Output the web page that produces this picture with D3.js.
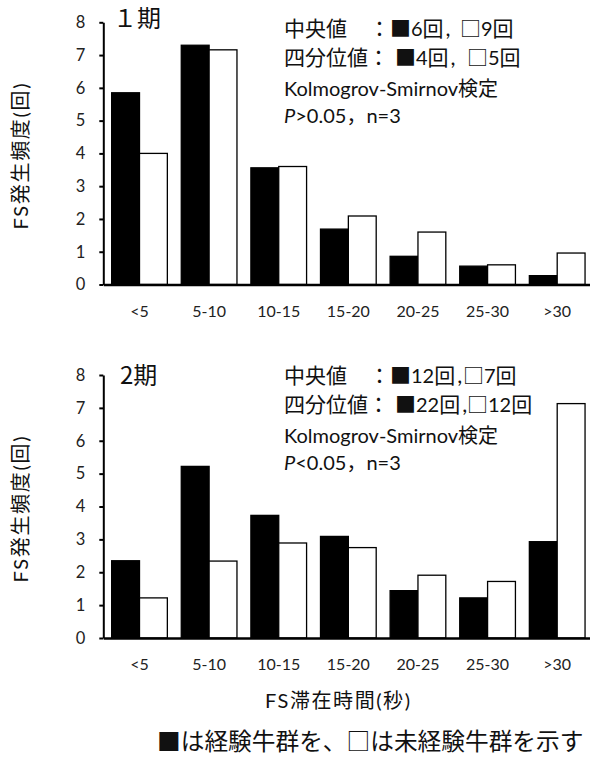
<!DOCTYPE html>
<html>
<head>
<meta charset="utf-8">
<script src="https://cdn.jsdelivr.net/npm/d3@7"></script>
<style>
  body { margin: 0; background: #fff; }
</style>
</head>
<body>
<div id="chart"></div>
<script>
// Data (FS stay time vs. FS frequency)
const categories = ["<5", "5-10", "10-15", "15-20", "20-25", "25-30", ">30"];
const groups = ["experienced", "naive"];
const yTicks = [0, 1, 2, 3, 4, 5, 6, 7, 8];

const period1Experienced = [5.85, 7.30, 3.56, 1.69, 0.86, 0.56, 0.27];
const period1Naive = [4.00, 7.16, 3.60, 2.09, 1.60, 0.60, 0.96];
const period2Experienced = [2.35, 5.22, 3.73, 3.09, 1.44, 1.22, 2.93];
const period2Naive = [1.22, 2.34, 2.89, 2.75, 1.91, 1.72, 7.13];

const periodLabels = ["１期", "2期"];
const medianValues = [[6, 9], [12, 7]];
const quartileValues = [[4, 5], [22, 12]];
const pTexts = [">0.05", "<0.05"];
const testLabel = "Kolmogrov-Smirnov";

const width = 590, height = 758;
const latin = "Lato, 'Noto Sans CJK JP', sans-serif";
const cjk = "'Noto Sans CJK JP', sans-serif";

const svg = d3.select("#chart")
  .append("svg")
    .attr("width", width)
    .attr("height", height)
    .style("font-family", latin);

// shared x scale, both panels use the same columns
const x = d3.scaleBand()
  .domain(categories)
  .range([103.3, 593.4])
  .paddingInner(0.2)
  .paddingOuter(0.12);
const xSub = d3.scaleBand()
  .domain(groups)
  .range([0, x.bandwidth()]);

function statLine(g, y, label, colonX, values, symX) {
  const t = g.append("text")
    .attr("y", y)
    .style("font-family", cjk)
    .style("font-size", "21px")
    .attr("fill", "#111");
  t.append("tspan").attr("x", 284).text(label);
  const colon = t.append("tspan").text("：");
  if (colonX != null) colon.attr("x", colonX);
  values.forEach((v, i) => {
    t.append("tspan").attr("x", symX[i]).text(i === 0 ? "■" : "□");
    t.append("tspan").style("font-family", latin).style("font-size", "20px").text(v);
    t.append("tspan").text("回");
    if (i === 0) {
      t.append("tspan").attr("dx", 2).style("font-family", latin).style("font-size", "22px").text(",");
    }
  });
}

function drawPanel(p) {
  const y = d3.scaleLinear().domain([0, 8]).range(p.yRange);
  const g = svg.append("g");
  const rows = categories.map((c, i) => ({ cat: c, experienced: p.exp[i], naive: p.naive[i] }));

  // bars
  g.selectAll("g.cat")
    .data(rows)
    .enter()
    .append("g")
      .attr("transform", d => `translate(${x(d.cat)},0)`)
    .selectAll("rect")
    .data(d => groups.map(k => ({ key: k, value: d[k] })))
    .enter()
    .append("rect")
      .attr("x", d => xSub(d.key))
      .attr("y", d => y(d.value))
      .attr("width", xSub.bandwidth())
      .attr("height", d => y(0) - y(d.value))
      .attr("fill", d => d.key === "experienced" ? "#000" : "#fff")
      .attr("stroke", "#000")
      .attr("stroke-width", 1.3);

  // X axis
  const xAxis = g.append("g")
    .attr("transform", `translate(0,${y(0)})`)
    .call(d3.axisBottom(x).tickSize(0).tickPadding(21));
  xAxis.select(".domain").attr("stroke-width", 2.4);
  xAxis.selectAll("text")
    .style("font-family", latin)
    .style("font-size", "16px")
    .attr("fill", "#222");

  // Y axis
  const yAxis = g.append("g")
    .attr("transform", `translate(${x.range()[0]},0)`)
    .call(d3.axisLeft(y).tickValues(yTicks).tickSize(4).tickSizeOuter(0).tickPadding(14));
  yAxis.select(".domain").attr("stroke-width", 2);
  yAxis.selectAll(".tick line").attr("stroke-width", 2);
  yAxis.selectAll("text")
    .style("font-family", latin)
    .style("font-size", "16.5px")
    .attr("fill", "#222");

  // Y axis label
  g.append("text")
    .attr("transform", "rotate(-90)")
    .attr("x", -(p.yRange[0] + p.yRange[1]) / 2 - 3)
    .attr("y", 28)
    .attr("text-anchor", "middle")
    .attr("textLength", 146)
    .attr("lengthAdjust", "spacing")
    .style("font-size", "20px")
    .attr("fill", "#111")
    .text("FS発生頻度(回)");

  // period title
  g.append("text")
    .attr("x", p.titleX)
    .attr("y", p.titleY)
    .style("font-family", cjk)
    .style("font-size", "24px")
    .attr("fill", "#111")
    .text(p.title);

  // stats block
  const top = p.statY;
  statLine(g, top, "中央値", 369, p.median, p.medianSymX);
  statLine(g, top + 29, "四分位値", null, p.quartile, p.quartileSymX);

  const ks = g.append("text")
    .attr("x", 284)
    .attr("y", top + 60)
    .style("font-size", "20px")
    .attr("fill", "#111");
  ks.append("tspan").text(testLabel);
  ks.append("tspan").style("font-family", cjk).text("検定");

  const pt = g.append("text")
    .attr("x", 284)
    .attr("y", top + 87)
    .style("font-size", "20px")
    .attr("fill", "#111");
  pt.append("tspan").style("font-style", "italic").text("P");
  pt.append("tspan").text(p.pText);
  pt.append("tspan").style("font-family", cjk).text("，");
  pt.append("tspan").text("n=3");
}

drawPanel({
  exp: period1Experienced, naive: period1Naive,
  yRange: [284.5, 22.3],
  title: periodLabels[0], titleX: 113, titleY: 27,
  statY: 35.5,
  median: medianValues[0], medianSymX: [390, 460],
  quartile: quartileValues[0], quartileSymX: [395, 467],
  pText: pTexts[0]
});

drawPanel({
  exp: period2Experienced, naive: period2Naive,
  yRange: [638, 375],
  title: periodLabels[1], titleX: 120, titleY: 384,
  statY: 383,
  median: medianValues[1], medianSymX: [390, 463],
  quartile: quartileValues[1], quartileSymX: [395, 467],
  pText: pTexts[1]
});

// X axis title
svg.append("text")
  .attr("x", 337.5)
  .attr("y", 708)
  .attr("text-anchor", "middle")
  .attr("textLength", 145)
  .attr("lengthAdjust", "spacing")
  .style("font-size", "20px")
  .attr("fill", "#111")
  .text("FS滞在時間(秒)");

// caption
svg.append("text")
  .attr("x", 157)
  .attr("y", 750)
  .style("font-family", cjk)
  .style("font-size", "23.7px")
  .attr("fill", "#111")
  .text("■は経験牛群を、□は未経験牛群を示す");
</script>
</body>
</html>
